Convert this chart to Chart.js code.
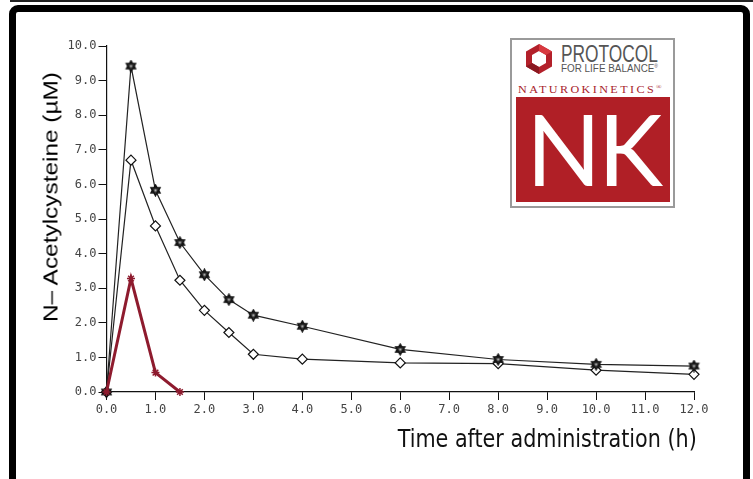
<!DOCTYPE html>
<html>
<head>
<meta charset="utf-8">
<script src="https://cdn.jsdelivr.net/npm/chart.js@4.4.1/dist/chart.umd.min.js"></script>
<style>
  html,body{margin:0;padding:0;background:#fff;width:753px;height:479px;overflow:hidden;}
  #topline{position:absolute;left:10px;right:0;top:0;height:2px;background:#222;}
  #frame{position:absolute;left:9px;top:5px;width:727px;height:520px;border:7px solid #000;border-radius:9px;background:#fff;}
  #wrap{position:absolute;left:0;top:0;width:753px;height:479px;}
  .fit{position:absolute;white-space:nowrap;line-height:1;}
  #ytitle{left:50px;top:197px;font-family:"Liberation Sans",Arial,sans-serif;font-size:21px;color:#000;}
  #xtitle{right:56px;top:439px;font-family:"DejaVu Sans Condensed","DejaVu Sans",sans-serif;font-size:24px;color:#111;}
  #logo{position:absolute;left:510px;top:38px;width:161px;height:166px;border:2px solid #9a9a9a;background:#fff;}
  #hex{position:absolute;left:12px;top:3px;}
  #prot{left:49px;top:2px;font-family:"Liberation Sans",sans-serif;font-size:24px;color:#555;}
  #flb{left:49px;top:24px;font-family:"Liberation Sans",sans-serif;font-size:10px;color:#555;}
  #natu{left:6px;top:44px;font-family:"Liberation Serif",serif;font-size:10px;color:#a8242c;letter-spacing:2px;}
  #nkbox{position:absolute;left:4px;top:57px;width:154px;height:105px;background:#b01f26;}
  #nk{position:absolute;left:0;right:0;top:2px;text-align:center;font-family:"Lato","Liberation Sans",sans-serif;font-weight:400;font-size:98px;color:#fff;line-height:1;letter-spacing:-3px;}
</style>
</head>
<body>
<div id="topline"></div>
<div id="frame"></div>
<div id="wrap"><canvas id="c" width="753" height="479"></canvas></div>
<div id="ytitle" class="fit">N– Acetylcysteine (µM)</div>
<div id="xtitle" class="fit">Time after administration (h)</div>
<div id="logo">
  <svg id="hex" width="30" height="32" viewBox="0 0 30 32">
    <polygon points="15,1 28,8.5 28,23.5 15,31 2,23.5 2,8.5" fill="#b3202a"/>
    <polygon points="15,8 22,12 22,20 15,24 8,20 8,12" fill="#fff"/>
    <polygon points="15,1 28,8.5 22,12 15,8" fill="#d8393f"/>
    <polygon points="2,23.5 8,20 15,24 15,31" fill="#8a1820"/>
  </svg>
  <div id="prot" class="fit">PROTOCOL</div>
  <div id="flb" class="fit">FOR LIFE BALANCE<sup style="font-size:5px">®</sup></div>
  <div id="natu" class="fit">NATUROKINETICS<sup style="font-size:6px">®</sup></div>
  <div id="nkbox"><div id="nk">NK</div></div>
</div>
<script>
// ---- data ----
const times = [0, 0.5, 1, 1.5, 2, 2.5, 3, 4, 6, 8, 10, 12];
const starSeries = [0, 9.42, 5.83, 4.32, 3.39, 2.67, 2.22, 1.90, 1.23, 0.94, 0.80, 0.75];
const diamondSeries = [0, 6.70, 4.80, 3.23, 2.36, 1.72, 1.09, 0.95, 0.84, 0.82, 0.63, 0.51];
const redTimes = [0, 0.5, 1, 1.5];
const redSeries = [0, 3.28, 0.56, 0];
const xTickLabels = ["0.0","1.0","2.0","3.0","4.0","5.0","6.0","7.0","8.0","9.0","10.0","11.0","12.0"];
const yTickLabels = ["0.0","1.0","2.0","3.0","4.0","5.0","6.0","7.0","8.0","9.0","10.0"];

const pts = (xs, ys) => xs.map((x, i) => ({x: x, y: ys[i]}));

// hexagram marker
function hexagram(size, stroke, fill) {
  const c = document.createElement('canvas');
  c.width = size; c.height = size;
  const g = c.getContext('2d');
  const cx = size / 2, cy = size / 2, r = size / 2 - 1.2;
  g.lineWidth = 1.4; g.strokeStyle = stroke; g.fillStyle = fill;
  [ -Math.PI / 2, Math.PI / 2 ].forEach(a0 => {
    g.beginPath();
    for (let k = 0; k < 3; k++) {
      const a = a0 + k * 2 * Math.PI / 3;
      const px = cx + r * Math.cos(a), py = cy + r * Math.sin(a);
      k ? g.lineTo(px, py) : g.moveTo(px, py);
    }
    g.closePath(); g.fill(); g.stroke();
  });
  g.fillStyle = '#bbb';
  g.fillRect(cx - 1, cy - 1, 2, 2);
  return c;
}
const starMarker = hexagram(13, '#111', '#333');

const tickFont = {family: "'DejaVu Sans Mono', monospace", size: 12};
const tickColor = '#444';

new Chart(document.getElementById('c'), {
  type: 'line',
  data: {
    datasets: [
      {
        data: pts(redTimes, redSeries),
        borderColor: '#8e1b2e', backgroundColor: '#8e1b2e',
        borderWidth: 3, pointStyle: 'star', pointRadius: 4, pointBorderWidth: 1.5,
        pointBorderColor: '#8e1b2e', tension: 0, clip: false
      },
      {
        data: pts(times, starSeries),
        borderColor: '#222', borderWidth: 1.2,
        pointStyle: starMarker, pointRadius: 6,
        tension: 0, clip: false
      },
      {
        data: pts(times, diamondSeries),
        borderColor: '#222', borderWidth: 1.2,
        pointStyle: 'rectRot', pointRadius: 5, pointBorderWidth: 1.2,
        pointBorderColor: '#111', pointBackgroundColor: '#fff', tension: 0, clip: false
      }
    ]
  },
  options: {
    responsive: false,
    animation: false,
    events: [],
    layout: {padding: {left: 20, top: 46, right: 59, bottom: 47}},
    plugins: {legend: {display: false}, tooltip: {enabled: false}, title: {display: false}},
    scales: {
      x: {
        type: 'linear', min: 0, max: 12,
        afterFit: s => { s.height = 40; },
        ticks: {stepSize: 1, padding: 3, font: tickFont, color: tickColor,
                callback: (v) => xTickLabels[Math.round(v)], maxRotation: 0, autoSkip: false},
        grid: {drawOnChartArea: false, drawTicks: true, tickLength: 8, color: '#111', tickWidth: 1},
        border: {display: true, color: '#111', width: 1.2}
      },
      y: {
        type: 'linear', min: 0, max: 10,
        afterFit: s => { s.width = 86.5; },
        ticks: {stepSize: 1, padding: 2, font: tickFont, color: tickColor,
                callback: (v) => yTickLabels[Math.round(v)], autoSkip: false},
        grid: {drawOnChartArea: false, drawTicks: true, tickLength: 8, color: '#111', tickWidth: 1},
        border: {display: true, color: '#111', width: 1.2}
      }
    }
  }
});

// stretch texts to the widths measured on the reference
function fitText(id, width, origin, extra) {
  const el = document.getElementById(id);
  const w = el.getBoundingClientRect().width;
  el.style.transformOrigin = origin;
  el.style.transform = (extra || '') + ' scaleX(' + (width / w) + ')';
}
fitText('xtitle', 299, 'right center', 'translateY(-50%)');
fitText('prot', 97, 'left top');
fitText('flb', 97, 'left top');
fitText('natu', 146, 'left top');
// y title: rotate around its centre
(function () {
  const el = document.getElementById('ytitle');
  const w = el.getBoundingClientRect().width;
  el.style.transform = 'translate(-50%,-50%) rotate(-90deg) scaleX(' + (250 / w) + ')';
})();
</script>
</body>
</html>
